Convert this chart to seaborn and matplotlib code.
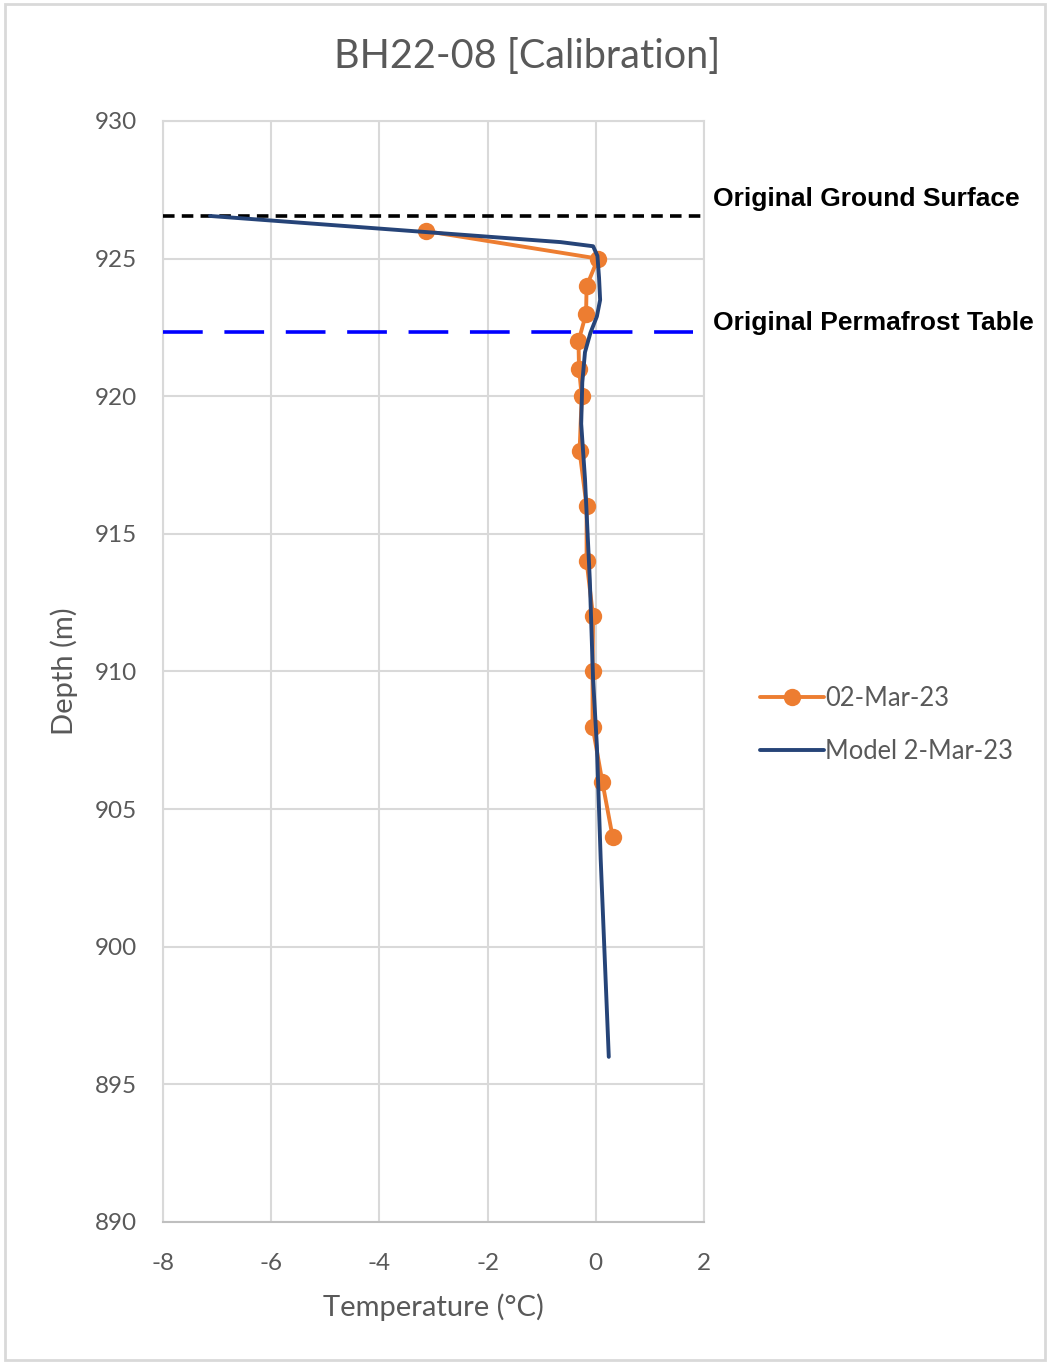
import matplotlib
matplotlib.use("Agg")
import matplotlib.pyplot as plt
import matplotlib.transforms as mtransforms
from matplotlib.patches import Rectangle
import seaborn as sns
import pandas as pd

# ---- data ----
obs_label = "02-Mar-23"
obs_temp = [-3.14, 0.04, -0.17, -0.18, -0.32, -0.31, -0.26, -0.30, -0.17, -0.17, -0.05, -0.06, -0.06, 0.12, 0.31]
obs_depth = [926.0, 925.0, 924.0, 923.0, 922.0, 921.0, 920.0, 918.0, 916.0, 914.0, 912.0, 910.0, 908.0, 906.0, 904.0]

model_label = "Model 2-Mar-23"
model_temp = [-7.13, -0.65, -0.05, 0.03, 0.06, 0.08, 0.02, -0.10, -0.20, -0.25, -0.27, -0.20, -0.11, -0.05, 0.02, 0.09, 0.24]
model_depth = [926.55, 925.6, 925.45, 925.1, 924.3, 923.5, 922.9, 922.3, 921.6, 920.5, 919.0, 917.0, 913.3, 909.7, 907.3, 903.2, 896.0]

ground_surface = 926.55
permafrost_table = 922.33
ground_label = "Original Ground Surface"
permafrost_label = "Original Permafrost Table"

title = "BH22-08 [Calibration]"
x_label = "Temperature (°C)"
y_label = "Depth (m)"
x_ticks = [-8, -6, -4, -2, 0, 2]
y_ticks = [890, 895, 900, 905, 910, 915, 920, 925, 930]

# ---- style ----
sns.set_style("white")
plt.rcParams["font.family"] = ["Lato", "DejaVu Sans"]
plt.rcParams["axes.unicode_minus"] = False
grey_text = "#595959"
grid_col = "#d9d9d9"

fig = plt.figure(figsize=(10.48, 13.62), dpi=100)
ax = fig.add_axes([163/1048, 1 - 1222/1362, (704-163)/1048, (1222-121)/1362])

obs_df = pd.DataFrame({"Temperature": obs_temp, "Depth": obs_depth})
mod_df = pd.DataFrame({"Temperature": model_temp, "Depth": model_depth})

ax.axhline(ground_surface, color="black", lw=2.6, ls=(0, (3.2, 2.0)), zorder=3)
ax.axhline(permafrost_table, xmin=0, xmax=0.98, color="#0000ff", lw=2.6, ls=(0, (11, 6)), zorder=3)

sns.lineplot(data=obs_df, x="Temperature", y="Depth", sort=False, estimator=None, ax=ax,
             color="#ED7D31", lw=2.8, marker="o", markersize=12.5,
             markeredgewidth=0, label=obs_label, zorder=4)
sns.lineplot(data=mod_df, x="Temperature", y="Depth", sort=False, estimator=None, ax=ax,
             color="#264478", lw=2.8, label=model_label, zorder=5)

ax.set_xlim(-8, 2)
ax.set_ylim(890, 930)
ax.set_xticks(x_ticks)
ax.set_yticks(y_ticks)
ax.grid(True, color=grid_col, lw=1.5)
ax.set_axisbelow(True)
for side in ["top", "right", "left"]:
    ax.spines[side].set_color(grid_col)
    ax.spines[side].set_linewidth(1.5)
ax.spines["bottom"].set_color("#bfbfbf")
ax.spines["bottom"].set_linewidth(1.5)
ax.tick_params(axis="both", length=0, labelsize=17.5, labelcolor=grey_text)
ax.tick_params(axis="y", pad=19)
ax.tick_params(axis="x", pad=22)

ax.set_xlabel(x_label, fontsize=21, color=grey_text, labelpad=14)
ax.set_ylabel(y_label, fontsize=21, color=grey_text, labelpad=12)
fig.suptitle(title, fontsize=28.5, color=grey_text, x=527/1048, y=1 - 57/1362, va="center")

trans = mtransforms.blended_transform_factory(ax.transAxes, ax.transData)
ax.text(1.0166, 927.15, ground_label, transform=trans, fontsize=19, fontweight="bold",
        family="Liberation Sans", color="black", va="center", ha="left", clip_on=False)
ax.text(1.0166, 922.65, permafrost_label, transform=trans, fontsize=19, fontweight="bold",
        family="Liberation Sans", color="black", va="center", ha="left", clip_on=False)

leg = ax.legend(loc="center left", bbox_to_anchor=(750/1048, 1 - 725/1362),
                bbox_transform=fig.transFigure, frameon=False, fontsize=18.4,
                handlelength=2.5, handletextpad=0.05, labelspacing=1.1,
                borderaxespad=0)
for t in leg.get_texts():
    t.set_color(grey_text)

fig.patches.append(Rectangle((5/1048, 2/1362), 1040/1048, 1356/1362, transform=fig.transFigure,
                             fill=False, edgecolor="#d9d9d9", lw=2))

fig.savefig("out.png", dpi=100)
